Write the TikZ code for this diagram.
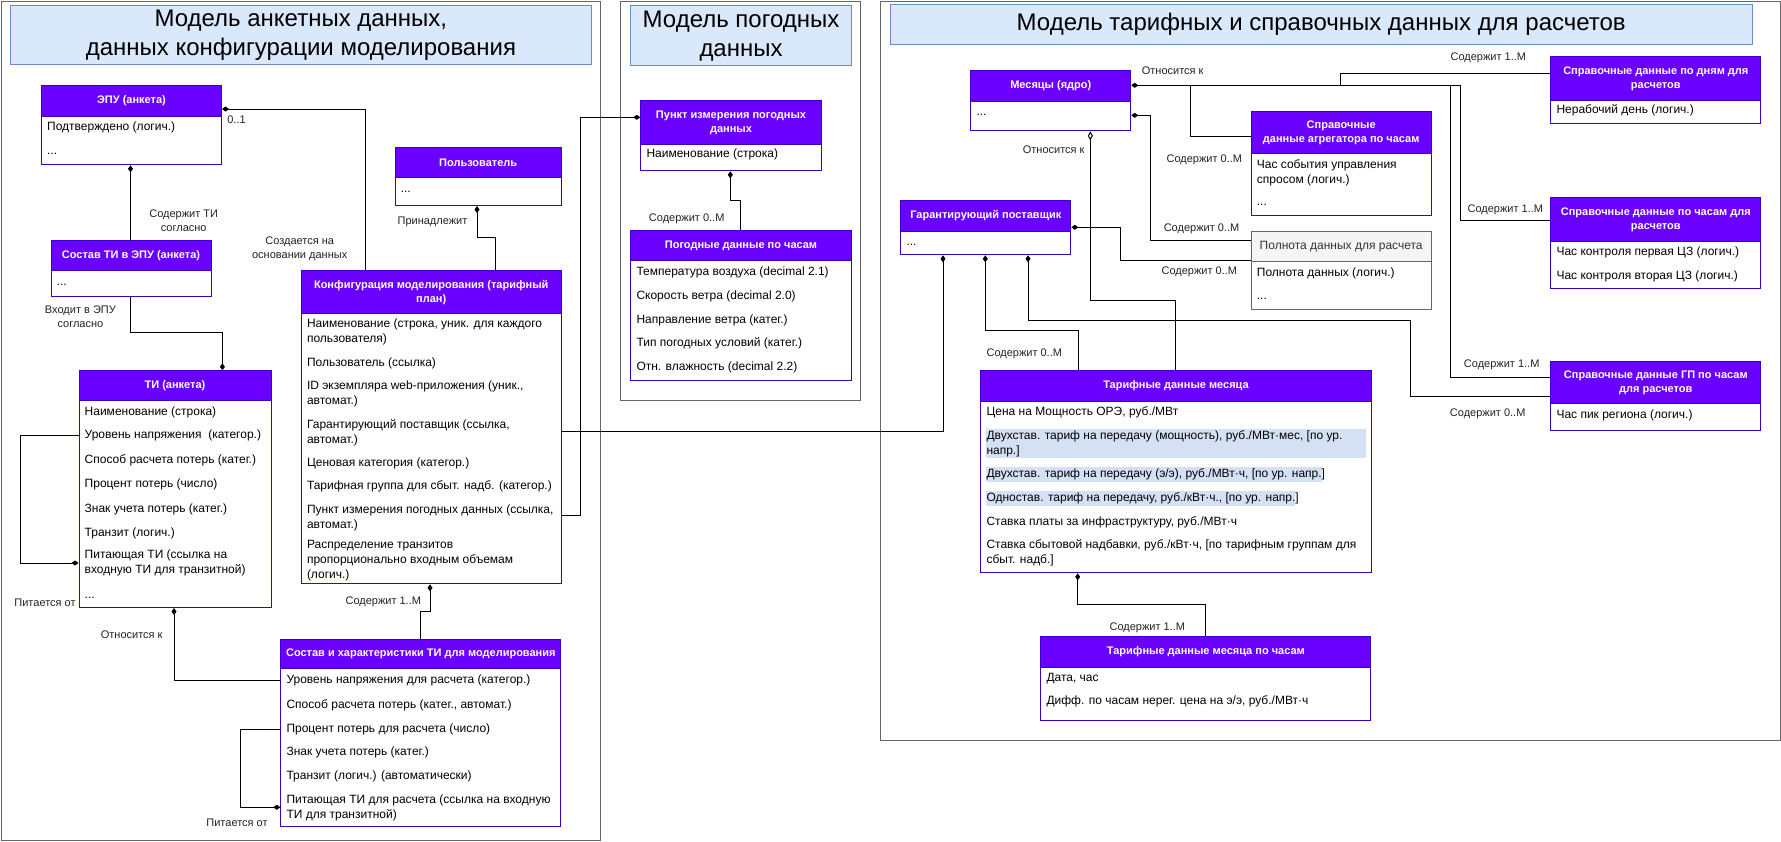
\documentclass[tikz,border=0pt]{standalone}
\usepackage{fontspec}
\setmainfont{Liberation Sans}
\usetikzlibrary{arrows.meta,calc}
\definecolor{hdrc}{HTML}{6A00FF}
\definecolor{boxc}{HTML}{3700CC}
\definecolor{tfill}{HTML}{DAE8FC}
\definecolor{tdraw}{HTML}{6C8EBF}
\definecolor{contc}{HTML}{666666}
\definecolor{gfill}{HTML}{F5F5F5}
\definecolor{gtext}{HTML}{333333}
\definecolor{hlc}{HTML}{D4E1F5}
\definecolor{lblc}{HTML}{222222}
\newcommand\bfnt{\fontsize{12}{15}\selectfont}
\newcommand\hfnt{\fontsize{11}{14}\selectfont\bfseries}
\newcommand\lfnt{\fontsize{11}{14}\selectfont}
\newcommand\tfnt{\fontsize{24}{29}\selectfont}
\tikzset{
  bodyb/.style={draw=boxc, line width=1pt, fill=white, inner sep=0pt, anchor=north west},
  hdrb/.style={draw=boxc, line width=1pt, fill=hdrc, text=white, font=\hfnt, inner sep=0pt, anchor=north west, align=center},
  gbodyb/.style={draw=contc, line width=1pt, fill=white, inner sep=0pt, anchor=north west},
  ghdrb/.style={draw=contc, line width=1pt, fill=gfill, text=gtext, font=\bfnt, inner sep=0pt, anchor=north west, align=center},
  rowt/.style={anchor=west, inner sep=0pt, font=\bfnt, text height=8.6pt, text depth=2.4pt},
  rowm/.style={anchor=west, inner sep=0pt, font=\bfnt, align=left},
  lbl/.style={inner sep=0pt, font=\lfnt, text=lblc, align=center},
  titleb/.style={draw=tdraw, fill=tfill, line width=1pt, font=\tfnt, align=center, inner sep=0pt, anchor=north west},
  contb/.style={draw=contc, line width=1pt},
  conn/.style={line width=1pt, draw=black},
  ds/.style={{Diamond[length=7pt,width=5pt]}-},
  de/.style={-{Diamond[length=7pt,width=5pt]}},
  dso/.style={{Diamond[open,fill=white,length=9pt,width=5pt]}-},
}
\newcommand\umlbox[7]{%
  \node[bodyb, minimum width={#4-#2}, minimum height={#6-#3}] (#1) at (#2,#3) {};
  \node[hdrb, minimum width={#4-#2}, minimum height={#5-#3}] (#1H) at (#2,#3) {#7};
}
\newcommand\grybox[7]{%
  \node[gbodyb, minimum width={#4-#2}, minimum height={#6-#3}] (#1) at (#2,#3) {};
  \node[ghdrb, minimum width={#4-#2}, minimum height={#5-#3}] (#1H) at (#2,#3) {#7};
}
\begin{document}
\begin{tikzpicture}[x=1pt,y=-1pt]
\useasboundingbox (0,0) rectangle (1781,841);
% containers
\draw[contb] (1,1) rectangle (600.3,840);
\draw[contb] (620.5,1) rectangle (860.5,400.5);
\draw[contb] (880.7,1) rectangle (1780,740);
% titles
\node[titleb, minimum width=580.2, minimum height=59.3] (tL) at (10.3,4.7) {Модель анкетных данных,\\данных конфигурации моделирования};
\node[titleb, minimum width=220.5, minimum height=60.3] (tM) at (630.3,5) {Модель погодных\\данных};
\node[titleb, minimum width=862.5, minimum height=40] (tR) at (889.5,4) {Модель тарифных и справочных данных для расчетов};
% boxes
\umlbox{epu}{41}{85.3}{221}{115.7}{164.3}{ЭПУ (анкета)}
\umlbox{polz}{394.6}{147.3}{560.7}{177.3}{205}{Пользователь}
\umlbox{sostE}{50.5}{240}{210.5}{270}{295.7}{Состав ТИ в ЭПУ (анкета)}
\umlbox{ti}{78.5}{370.3}{270.5}{400.3}{607}{ТИ (анкета)}
\umlbox{konf}{300.8}{270}{560.7}{313.3}{583.3}{Конфигурация моделирования (тарифный\\план)}
\umlbox{sostM}{280.3}{638.7}{560.3}{668.3}{826}{Состав и характеристики ТИ для моделирования}
\umlbox{punkt}{640.3}{100}{820.7}{143.7}{170.3}{Пункт измерения погодных\\данных}
\umlbox{pogod}{630.3}{230}{850.7}{260.3}{380}{Погодные данные по часам}
\umlbox{mes}{970.3}{70.3}{1130.3}{100.7}{130.3}{Месяцы (ядро)}
\umlbox{garant}{900.3}{200.3}{1070.3}{230.7}{254.3}{Гарантирующий поставщик}
\umlbox{agreg}{1250.7}{110.7}{1430.7}{153.3}{215}{Справочные\\данные агрегатора по часам}
\grybox{poln}{1250.7}{230.7}{1430.7}{260.7}{309}{Полнота данных для расчета}
\umlbox{dni}{1550.3}{56.3}{1760.3}{100}{123.3}{Справочные данные по дням для\\расчетов}
\umlbox{chas}{1550.3}{197.3}{1760.3}{240.7}{288.3}{Справочные данные по часам для\\расчетов}
\umlbox{gp}{1550.3}{360.7}{1760.3}{403.3}{430}{Справочные данные ГП по часам\\для расчетов}
\umlbox{tarM}{980.3}{370.3}{1370.7}{400.7}{572.3}{Тарифные данные месяца}
\umlbox{tarC}{1040.3}{636.3}{1370.3}{666.7}{720.3}{Тарифные данные месяца по часам}
% highlights
\fill[hlc] (986,429) rectangle (1366,457.7);
\fill[hlc] (986,466.7) rectangle (1322,482);
\fill[hlc] (986,491) rectangle (1295.3,505.7);
% rows
\node[rowt] (epu1) at (47,127.7) {Подтверждено (логич.)};
\node[rowt] (epu2) at (47,150.9) {...};
\node[rowt] (polz1) at (400.6,188.9) {...};
\node[rowt] (sostE1) at (56.5,281.9) {...};
\node[rowt] (ti1) at (84.5,412.7) {Наименование (строка)};
\node[rowt] (ti2) at (84.5,435.7) {Уровень напряжения\ \ (категор.)};
\node[rowt] (ti3) at (84.5,460) {Способ расчета потерь (катег.)};
\node[rowt] (ti4) at (84.5,484.7) {Процент потерь (число)};
\node[rowt] (ti5) at (84.5,509) {Знак учета потерь (катег.)};
\node[rowt] (ti6) at (84.5,533) {Транзит (логич.)};
\node[rowm] (ti7) at (84.5,563.3) {Питающая ТИ (ссылка на\\входную ТИ для транзитной)};
\node[rowt] (ti8) at (84.5,595.2) {...};
\node[rowm] (k1) at (306.8,332.2) {Наименование (строка, уник. для каждого\\пользователя)};
\node[rowt] (k2) at (306.8,363.3) {Пользователь (ссылка)};
\node[rowm] (k3) at (306.8,394.2) {ID экземпляра web-приложения (уник.,\\автомат.)};
\node[rowm] (k4) at (306.8,432.5) {Гарантирующий поставщик (ссылка,\\автомат.)};
\node[rowt] (k5) at (306.8,463.3) {Ценовая категория (категор.)};
\node[rowt] (k6) at (306.8,486.7) {Тарифная группа для сбыт. надб. (категор.)};
\node[rowm] (k7) at (306.8,518.2) {Пункт измерения погодных данных (ссылка,\\автомат.)};
\node[rowm] (k8) at (306.8,561) {Распределение транзитов\\пропорционально входным объемам\\(логич.)};
\node[rowt] (s1) at (286.3,680) {Уровень напряжения для расчета (категор.)};
\node[rowt] (s2) at (286.3,705) {Способ расчета потерь (катег., автомат.)};
\node[rowt] (s3) at (286.3,729) {Процент потерь для расчета (число)};
\node[rowt] (s4) at (286.3,752.7) {Знак учета потерь (катег.)};
\node[rowt] (s5) at (286.3,776.7) {Транзит (логич.) (автоматически)};
\node[rowm] (s6) at (286.3,807.5) {Питающая ТИ для расчета (ссылка на входную\\ТИ для транзитной)};
\node[rowt] (p1) at (646.3,154.7) {Наименование (строка)};
\node[rowt] (w1) at (636.3,272.3) {Температура воздуха (decimal 2.1)};
\node[rowt] (w2) at (636.3,296) {Скорость ветра (decimal 2.0)};
\node[rowt] (w3) at (636.3,320) {Направление ветра (катег.)};
\node[rowt] (w4) at (636.3,343.3) {Тип погодных условий (катег.)};
\node[rowt] (w5) at (636.3,367.7) {Отн. влажность (decimal 2.2)};
\node[rowt] (m1) at (976.3,111.9) {...};
\node[rowt] (g1) at (906.3,242.6) {...};
\node[rowm] (a1) at (1256.7,172.8) {Час события управления\\спросом (логич.)};
\node[rowt] (a2) at (1256.7,202.6) {...};
\node[rowt] (pl1) at (1256.7,273.3) {Полнота данных (логич.)};
\node[rowt] (pl2) at (1256.7,296.2) {...};
\node[rowt] (d1) at (1556.3,110.7) {Нерабочий день (логич.)};
\node[rowt] (c1) at (1556.3,252) {Час контроля первая ЦЗ (логич.)};
\node[rowt] (c2) at (1556.3,276) {Час контроля вторая ЦЗ (логич.)};
\node[rowt] (gp1) at (1556.3,415) {Час пик региона (логич.)};
\node[rowt] (tm1) at (986.3,412.7) {Цена на Мощность ОРЭ, руб./МВт};
\node[rowm] (tm2) at (986.3,443.8) {Двухстав. тариф на передачу (мощность), руб./МВт·мес, [по ур.\\напр.]};
\node[rowt] (tm3) at (986.3,474.3) {Двухстав. тариф на передачу (э/э), руб./МВт·ч, [по ур. напр.]};
\node[rowt] (tm4) at (986.3,498.3) {Одностав. тариф на передачу, руб./кВт·ч., [по ур. напр.]};
\node[rowt] (tm5) at (986.3,522.3) {Ставка платы за инфраструктуру, руб./МВт·ч};
\node[rowm] (tm6) at (986.3,552.8) {Ставка сбытовой надбавки, руб./кВт·ч, [по тарифным группам для\\сбыт. надб.]};
\node[rowt] (tc1) at (1046.3,678) {Дата, час};
\node[rowt] (tc2) at (1046.3,701.7) {Дифф. по часам нерег. цена на э/э, руб./МВт·ч};
% connectors
\draw[conn,ds] ($(epu.north east)+(0,23.7)$) -- (365.5,109) -- ($(konf.north west)+(64.7,0)$);
\draw[conn,ds] ($(polz.south west)+(82.4,0)$) -- (477,237.7) -- (495.6,237.7) -- ($(konf.north west)+(194.8,0)$);
\draw[conn,ds] ($(epu.south west)+(89.5,0)$) -- ($(sostE.north west)+(80,0)$);
\draw[conn,de] ($(sostE.south west)+(80,0)$) -- (130.5,332.7) -- (222.4,332.7) -- ($(ti.north west)+(143.9,0)$);
\draw[conn,de] ($(ti.north west)+(0,65.4)$) -- (20.5,435.7) -- (20.5,563) -- ($(ti.north west)+(0,192.7)$);
\draw[conn,ds] ($(ti.south west)+(95.5,0)$) -- (174,680.3) -- ($(sostM.north west)+(0,41.6)$);
\draw[conn,ds] ($(konf.south west)+(129.2,0)$) -- (430,611) -- (420.3,611) -- ($(sostM.north west)+(140,0)$);
\draw[conn,de] ($(sostM.north west)+(0,90.3)$) -- (240.7,729) -- (240.7,807.3) -- ($(sostM.north west)+(0,168.6)$);
\draw[conn,de] ($(konf.north east)+(0,245.3)$) -- (580.7,515.3) -- (580.7,117.3) -- ($(punkt.north west)+(0,17.3)$);
\draw[conn,de] ($(konf.north east)+(0,161.7)$) -- (943,431.7) -- ($(garant.south west)+(42.7,0)$);
\draw[conn,ds] ($(punkt.south west)+(90,0)$) -- (730.3,200.3) -- (740.3,200.3) -- ($(pogod.north west)+(110,0)$);
\draw[conn,ds] ($(mes.north east)+(0,15)$) -- (1190.3,85.3) -- (1190.3,136.7) -- ($(agreg.north west)+(0,26)$);
\draw[conn] (1190.3,85.3) -- (1460,85.3) -- (1460,220) -- ($(chas.north west)+(0,22.7)$);
\draw[conn] (1340,85.3) -- (1340,73) -- ($(dni.north west)+(0,16.7)$);
\draw[conn] (1450.3,85.3) -- (1450.3,377.7) -- ($(gp.north west)+(0,17)$);
\draw[conn,ds] ($(mes.north east)+(0,45)$) -- (1150.3,115.3) -- (1150.3,240.7) -- ($(poln.north west)+(0,10)$);
\draw[conn,ds] ($(garant.north east)+(0,27)$) -- (1120.3,227.3) -- (1120.3,260.3) -- ($(poln.north west)+(0,29.6)$);
\draw[conn,ds] ($(garant.south west)+(85,0)$) -- (985.3,330) -- (1078,330) -- ($(tarM.north west)+(97.7,0)$);
\draw[conn,ds] ($(garant.south west)+(127.7,0)$) -- (1028,320.5) -- (1410.3,320.5) -- (1410.3,396) -- ($(gp.north west)+(0,35.3)$);
\draw[conn,dso] ($(mes.south west)+(120,0)$) -- (1090.3,300) -- (1175.3,300) -- ($(tarM.north west)+(195,0)$);
\draw[conn,ds] ($(tarM.south west)+(97.4,0)$) -- (1077.7,604.3) -- (1205.3,604.3) -- ($(tarC.north west)+(165,0)$);
% labels
\node[lbl] (L1) at (236.5,120) {0..1};
\node[lbl] (L2) at (183.7,220.5) {Содержит ТИ\\согласно};
\node[lbl] (L3) at (299.7,248.5) {Создается на\\основании данных};
\node[lbl] (L4) at (432.5,221.7) {Принадлежит};
\node[lbl] (L5) at (80.4,317.2) {Входит в ЭПУ\\согласно};
\node[lbl] (L6) at (45,602.3) {Питается от};
\node[lbl] (L7) at (131.7,634.7) {Относится к};
\node[lbl] (L8) at (383.3,601.7) {Содержит 1..M};
\node[lbl] (L9) at (237,822.3) {Питается от};
\node[lbl] (L10) at (686.7,218.7) {Содержит 0..M};
\node[lbl] (L11) at (1172.7,71) {Относится к};
\node[lbl] (L12) at (1053.7,149.3) {Относится к};
\node[lbl] (L13) at (1204.3,159.5) {Содержит 0..M};
\node[lbl] (L14) at (1201.5,228.5) {Содержит 0..M};
\node[lbl] (L15) at (1199.3,271.5) {Содержит 0..M};
\node[lbl] (L16) at (1488.3,57.3) {Содержит 1..M};
\node[lbl] (L17) at (1505.3,209.3) {Содержит 1..M};
\node[lbl] (L18) at (1501.7,365) {Содержит 1..M};
\node[lbl] (L19) at (1487.7,414) {Содержит 0..M};
\node[lbl] (L20) at (1024.3,354.2) {Содержит 0..M};
\node[lbl] (L21) at (1147.3,627.3) {Содержит 1..M};
\end{tikzpicture}
\end{document}
